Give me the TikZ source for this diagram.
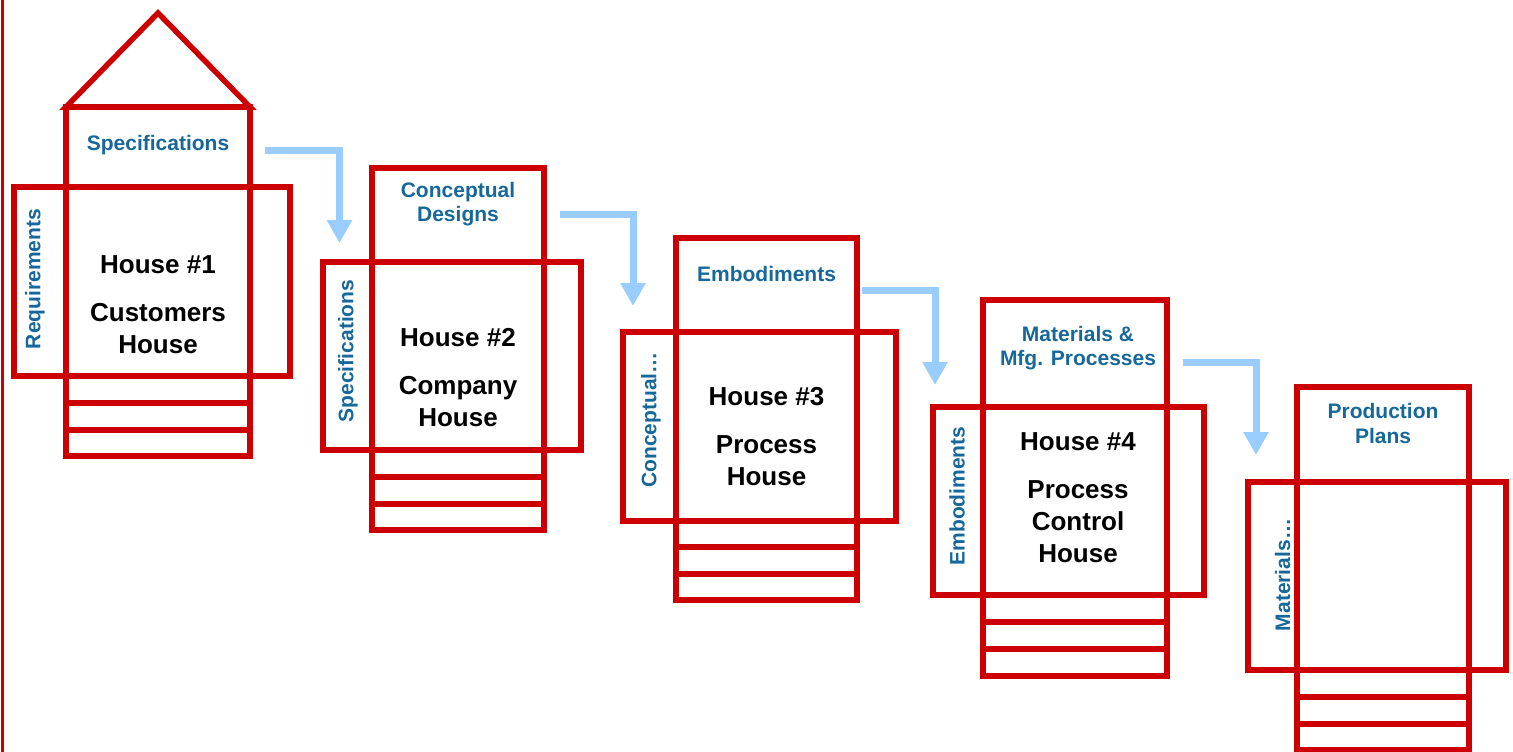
\documentclass[tikz,border=0pt]{standalone}
\usepackage{fontspec}
\setmainfont{Liberation Sans}
\usetikzlibrary{arrows.meta,fit}
\definecolor{qfdred}{RGB}{204,0,0}
\definecolor{qfdblue}{RGB}{22,104,154}
\definecolor{flowblue}{RGB}{153,204,255}
\begin{document}
\begin{tikzpicture}[x=1pt,y=-1pt,
  frame/.style={draw=qfdred, line width=5.5pt, line join=miter, inner sep=0pt, outer sep=0pt, rectangle},
  tag/.style={text=qfdblue, font=\fontsize{21}{24.5}\selectfont\bfseries, align=center, inner sep=0pt},
  title/.style={text=black, font=\fontsize{26}{32}\selectfont\bfseries, align=center, inner sep=0pt},
  flow/.style={draw=flowblue, line width=7pt, line join=miter, -{Triangle[width=24pt,length=23pt]}}]
\useasboundingbox (0,0) rectangle (1513,752);

% margin rule on the left
\draw[qfdred, line width=3pt] (2.5,0) -- (2.5,752);

% ---- House 1 ----
\draw[frame] (66,107) -- (158,13) -- (250,107) -- cycle;
\node[frame, fit={(66,107)(250,187)}] (top1) {};
\node[frame, fit={(14,187)(290,376)}] (wide1) {};
\node[frame, fit={(66,187)(250,376)}] (core1) {};
\node[frame, fit={(66,376)(250,403)}] (rowa1) {};
\node[frame, fit={(66,403)(250,430)}] (rowb1) {};
\node[frame, fit={(66,430)(250,456)}] (rowc1) {};
\node[tag] (what1) at (158,145) {Specifications};
\node[tag, rotate=90] (why1) at (35,279) {Requirements};
\node[title] (name1) at (158,305) {House \#1\\[16pt]Customers\\House};

% ---- House 2 ----
\node[frame, fit={(372,168)(544,262)}] (top2) {};
\node[frame, fit={(323,262)(581,450)}] (wide2) {};
\node[frame, fit={(372,262)(544,450)}] (core2) {};
\node[frame, fit={(372,450)(544,477)}] (rowa2) {};
\node[frame, fit={(372,477)(544,504)}] (rowb2) {};
\node[frame, fit={(372,504)(544,530)}] (rowc2) {};
\node[tag] (what2) at (458,204.2) {Conceptual\\Designs};
\node[tag, rotate=90] (why2) at (348,351) {Specifications};
\node[title] (name2) at (458,378) {House \#2\\[16pt]Company\\House};

% ---- House 3 ----
\node[frame, fit={(676,238)(857,332)}] (top3) {};
\node[frame, fit={(623,332)(896,521)}] (wide3) {};
\node[frame, fit={(676,332)(857,521)}] (core3) {};
\node[frame, fit={(676,521)(857,547)}] (rowa3) {};
\node[frame, fit={(676,547)(857,574)}] (rowb3) {};
\node[frame, fit={(676,574)(857,600)}] (rowc3) {};
\node[tag] (what3) at (766.5,273.5) {Embodiments};
\node[tag, rotate=90] (why3) at (651,420) {Conceptual…};
\node[title] (name3) at (766.5,437) {House \#3\\[16pt]Process\\House};

% ---- House 4 ----
\node[frame, fit={(983,300)(1167,407)}] (top4) {};
\node[frame, fit={(933,407)(1204,595)}] (wide4) {};
\node[frame, fit={(983,407)(1167,595)}] (core4) {};
\node[frame, fit={(983,595)(1167,622)}] (rowa4) {};
\node[frame, fit={(983,622)(1167,649)}] (rowb4) {};
\node[frame, fit={(983,649)(1167,676)}] (rowc4) {};
\node[tag] (what4) at (1078,348) {Materials \&\\Mfg. Processes};
\node[tag, rotate=90] (why4) at (957,496) {Embodiments};
\node[title] (name4) at (1078,497.5) {House \#4\\[16pt]Process\\Control\\House};

% ---- House 5 ----
\node[frame, fit={(1297,387)(1469,482)}] (top5) {};
\node[frame, fit={(1248,482)(1506,670)}] (wide5) {};
\node[frame, fit={(1297,482)(1469,670)}] (core5) {};
\node[frame, fit={(1297,670)(1469,697)}] (rowa5) {};
\node[frame, fit={(1297,697)(1469,724)}] (rowb5) {};
\node[frame, fit={(1297,724)(1469,750)}] (rowc5) {};
\node[tag] (what5) at (1383,423.5) {Production\\Plans};
\node[tag, rotate=90] (why5) at (1282.5,575) {Materials…};

% ---- flow from each house into the next ----
\draw[flow] ([shift={(15,3)}]top1.east) -| ([shift={(16.5,-19)}]wide2.north west);
\draw[flow] ([shift={(16,-1)}]top2.east) -| ([shift={(10,-26)}]wide3.north west);
\draw[flow] ([shift={(5,5)}]top3.east) -| ([shift={(2,-22)}]wide4.north west);
\draw[flow] ([shift={(16,8.5)}]top4.east) -| ([shift={(8,-27)}]wide5.north west);
\end{tikzpicture}
\end{document}
